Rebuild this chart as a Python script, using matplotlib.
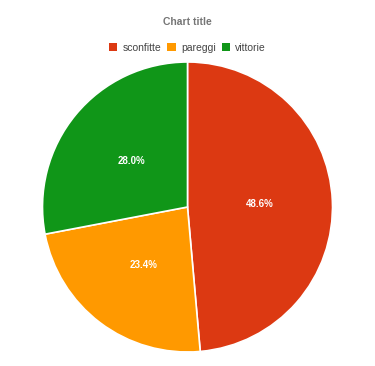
import matplotlib
matplotlib.use("Agg")
import matplotlib.pyplot as plt
from matplotlib.patches import Patch

plt.rcParams['font.family'] = ['Liberation Sans', 'DejaVu Sans']

labels = ["sconfitte", "pareggi", "vittorie"]
values = [48.6, 23.4, 28.0]
colors = ["#DC3912", "#FF9900", "#109618"]

W, H = 375, 366
fig = plt.figure(figsize=(W / 100, H / 100), dpi=100)
ax = fig.add_axes([0, 0, 1, 1])

wedges, texts, autotexts = ax.pie(
    values, colors=colors, startangle=90, counterclock=False,
    center=(187.5, H - 207), radius=145, autopct="%1.1f%%", pctdistance=0.5,
    wedgeprops=dict(edgecolor="white", linewidth=1.2),
    textprops=dict(color="white", fontsize=7, fontweight="bold"),
    frame=True,
)
ax.set_xlim(0, W)
ax.set_ylim(0, H)
ax.set_aspect("auto")
ax.axis("off")

fig.text(0.5, 1 - 22 / H, "Chart title", ha="center", va="center",
         fontsize=7.5, fontweight="bold", color="#757575")

handles = [Patch(facecolor=c, edgecolor="none") for c in colors]
fig.legend(handles, labels, loc="center", bbox_to_anchor=(0.5, 1 - 48 / H),
           ncol=3, frameon=False, fontsize=7.5, handlelength=0.8, handleheight=0.8,
           handletextpad=0.5, columnspacing=0.6, labelcolor="#444444")

fig.savefig("out.png", dpi=100)
